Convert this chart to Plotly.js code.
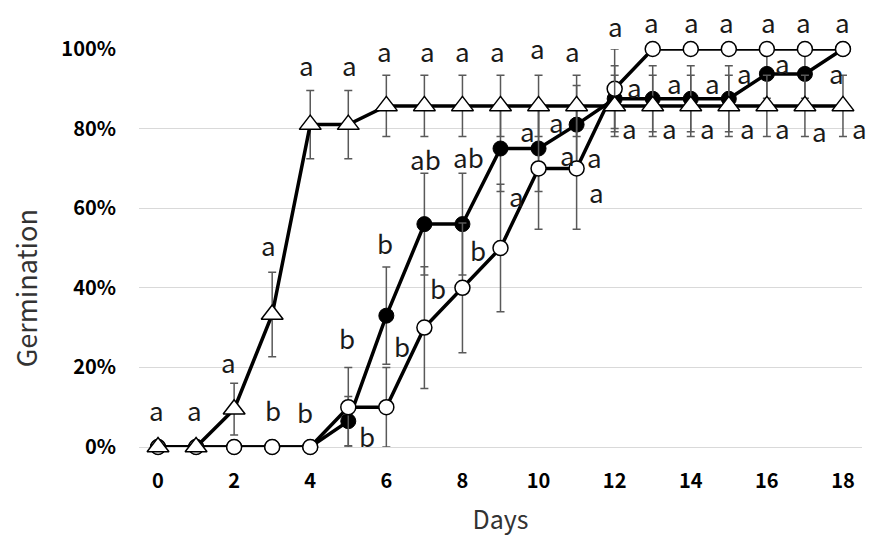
<!DOCTYPE html>
<html>
<head>
<meta charset="utf-8">
<script src="https://cdn.plot.ly/plotly-3.0.1.min.js"></script>
<style>html,body{margin:0;padding:0;background:#fff;}#chart{width:869px;height:536px;}</style>
</head>
<body>
<div id="chart"></div>
<script>
// ---- data ----
const days = [0,1,2,3,4,5,6,7,8,9,10,11,12,13,14,15,16,17,18];

const filledPct = [0,0,0,0,0,6.5,33,56,56,75,75,81,87.5,87.5,87.5,87.5,93.75,93.75,100];
const filledErr = [0,0,0,0,0,6.2,12.2,12.8,12.8,10.8,10.8,9.8,8.3,8.3,8.3,8.3,6.1,6.1,0];

const openPct = [0,0,0,0,0,10,10,30,40,50,70,70,90,100,100,100,100,100,100];
const openErr = [0,0,0,0,0,10,10,15.3,16.3,16,15.3,15.3,10,0,0,0,0,0,0];

const triPct = [0,0,9.5,33.3,81,81,85.7,85.7,85.7,85.7,85.7,85.7,85.7,85.7,85.7,85.7,85.7,85.7,85.7];
const triErr = [0,0,6.5,10.6,8.6,8.6,7.7,7.7,7.7,7.7,7.7,7.7,7.7,7.7,7.7,7.7,7.7,7.7,7.7];

const yTickVals = [0,20,40,60,80,100];
const yTickText = ['0%','20%','40%','60%','80%','100%'];
const xTickVals = [0,2,4,6,8,10,12,14,16,18];
const xTickText = ['0','2','4','6','8','10','12','14','16','18'];
const xTitle = 'Days';
const yTitle = 'Germination';

// significance letters (day position, % position, text)
const letterDay = [-0.03,0.95,1.84,2.89,3.89,5.02,5.96,7.07,7.99,8.91,9.96,10.90,
  12.40,13.45,14.45,15.48,16.42,17.39,18.44,
  3.02,3.86,4.97,5.49,5.96,6.41,7.02,8.15,7.36,8.41,9.43,9.72,10.48,10.75,11.48,11.53,
  12.53,12.01,12.98,14.03,14.95,16.03,16.97,18.0,
  13.58,14.58,15.42,16.4,17.84];
const letterPct = [9.3,9.3,21.6,50.8,96.0,96.0,99.5,99.7,99.7,99.7,100.3,99.7,
  80.2,80.2,80.4,80.2,80.2,79.6,80.2,
  9.3,9.0,27.6,3.0,51.3,25.6,72.6,72.9,40.0,49.5,63.3,79.6,81.7,73.4,73.0,64.2,
  90.5,106.0,106.8,106.8,106.8,106.8,106.8,106.8,
  91.5,91.5,94.2,96.5,94.0];
const letterText = ['a','a','a','a','a','a','a','a','a','a','a','a',
  'a','a','a','a','a','a','a',
  'b','b','b','b','b','b','ab','ab','b','b','a','a','a','a','a','a',
  'a','a','a','a','a','a','a','a',
  'a','a','a','a','a'];

const FONT = '"Noto Sans CJK JP", "Noto Sans", sans-serif';
const Y_MIN = 0, Y_MAX = 100;
const errStyle = (arr) => ({type:'data', array:arr, visible:true, color:'#595959', thickness:1.5, width:4});

const traces = [
  {x:days, y:filledPct, type:'scatter', mode:'lines+markers', cliponaxis:false,
   line:{color:'#000', width:3.5},
   marker:{symbol:'circle', size:15, color:'#000', line:{color:'#000', width:1}},
   error_y: errStyle(filledErr), showlegend:false},
  {x:days, y:openPct, type:'scatter', mode:'lines+markers', cliponaxis:false,
   line:{color:'#000', width:3.5},
   marker:{symbol:'circle', size:15, color:'#fff', line:{color:'#000', width:1.5}},
   error_y: errStyle(openErr), showlegend:false},
  {x:days, y:triPct, type:'scatter', mode:'lines+markers', cliponaxis:false,
   line:{color:'#000', width:3.5},
   marker:{symbol:'triangle-up', size:19, color:'#fff', line:{color:'#000', width:1.5}},
   error_y: errStyle(triErr), showlegend:false}
];

// letters use paper-y (fraction of the 0–100 % axis) so that labels above 100 % stay visible
const annotations = letterText.map((t,i) => ({
  x: letterDay[i], y: (letterPct[i]-Y_MIN)/(Y_MAX-Y_MIN), xref:'x', yref:'paper', text:t, showarrow:false,
  xanchor:'center', yanchor:'middle',
  font:{family:FONT, size:26, color:'#1a1a1a'}
}));
// y-axis title, placed lower than the plot centre as in the reference
annotations.push({
  x:-0.157, y:0.40, xref:'paper', yref:'paper', text:yTitle, showarrow:false, textangle:-90,
  xanchor:'center', yanchor:'middle', font:{family:FONT, size:27, color:'#333'}
});

const layout = {
  width:869, height:536,
  margin:{l:139, r:7, t:49, b:89, pad:0},
  paper_bgcolor:'#fff', plot_bgcolor:'#fff',
  showlegend:false,
  xaxis:{range:[-0.5,18.5], tickvals:xTickVals, ticktext:xTickText, showgrid:false, zeroline:false,
    showline:false, ticks:'', ticklabelstandoff:20,
    tickfont:{family:FONT, size:20, color:'#000', weight:'bold'},
    title:{text:xTitle, font:{family:FONT, size:25, color:'#333'}, standoff:20}},
  yaxis:{range:[Y_MIN,Y_MAX], tickvals:yTickVals, ticktext:yTickText, showgrid:true, gridcolor:'#d9d9d9', gridwidth:1,
    zeroline:true, zerolinecolor:'#d9d9d9', zerolinewidth:1, showline:false, ticks:'', ticklabelstandoff:22,
    tickfont:{family:FONT, size:20, color:'#000', weight:'bold'}},
  annotations: annotations
};

Plotly.newPlot('chart', traces, layout, {displayModeBar:false, staticPlot:true});
</script>
</body>
</html>
